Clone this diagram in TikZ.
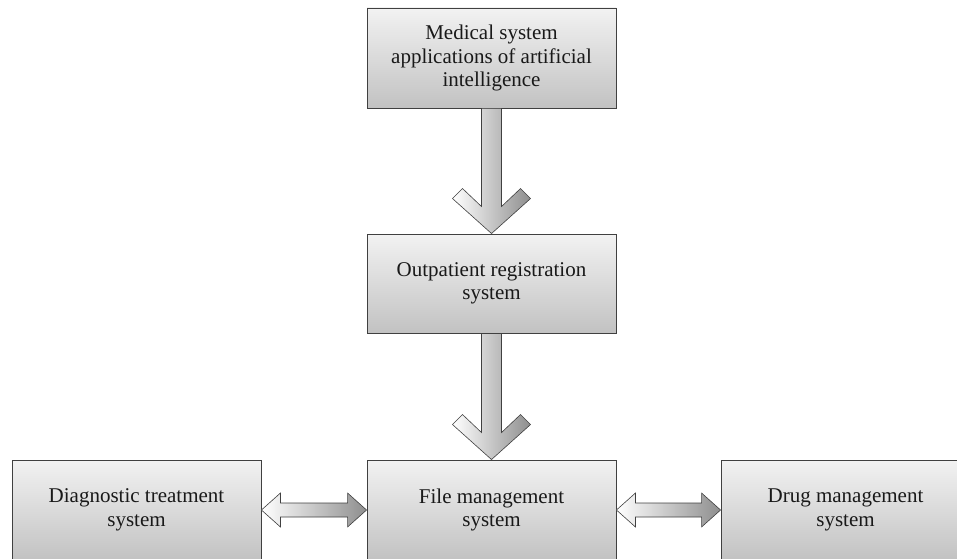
\documentclass[tikz,border=0pt]{standalone}
\usepackage{fontspec}
\setmainfont{Liberation Serif}
\usepackage{tikz}
\usetikzlibrary{calc, positioning}
\definecolor{rahmen}{HTML}{404040}
\definecolor{hellgrau}{HTML}{F2F2F2}
\definecolor{dunkelgrau}{HTML}{C2C2C2}
\definecolor{pfeilgrau}{HTML}{8E8E8E}

\tikzset{
  kasten/.style={draw=rahmen, line width=0.9pt, top color=hellgrau,
    bottom color=dunkelgrau, minimum width=249pt, minimum height=100pt,
    inner sep=0pt, align=center, text=black!90,
    font=\fontsize{21}{23.5}\selectfont},
  blockpfeil/.style={draw=rahmen, line width=0.6pt, left color=white,
    right color=pfeilgrau}
}

% Pfeil nach unten, Spitze am oberen Rand von #2
\newcommand{\pfeilrunter}[2]{%
  \path[blockpfeil] ($(#1.south)+(-10,0)$) -- ($(#2.north)+(-10,27)$)
    -- ($(#2.north)+(-29,45)$) -- ($(#2.north)+(-39,35)$) -- (#2.north)
    -- ($(#2.north)+(39,35)$) -- ($(#2.north)+(29,45)$)
    -- ($(#2.north)+(10,27)$) -- ($(#1.south)+(10,0)$) -- cycle;}

% Doppelpfeil zwischen #1 (links) und #2 (rechts)
\newcommand{\doppelpfeil}[2]{%
  \path[blockpfeil] (#1.east) -- ($(#1.east)+(19,17)$) -- ($(#1.east)+(19,7)$)
    -- ($(#2.west)+(-19,7)$) -- ($(#2.west)+(-19,17)$) -- (#2.west)
    -- ($(#2.west)+(-19,-17)$) -- ($(#2.west)+(-19,-7)$)
    -- ($(#1.east)+(19,-7)$) -- ($(#1.east)+(19,-17)$) -- cycle;}

\begin{document}
\begin{tikzpicture}[x=1pt, y=1pt]
  \useasboundingbox (0,0) rectangle (957,558);
  \clip (0,0) rectangle (957,558);

  % --- Kaesten ---
  \node[kasten] (medizin) at (491.5,500) {Medical system\\applications of artificial\\intelligence};
  \node[kasten, minimum height=99pt] (ambulanz) at (491.5,274.5) {Outpatient registration\\system};
  \node[kasten] (akte) at (491.5,48) {File management\\system};
  \node[kasten] (diagnose) at (136.5,48) {Diagnostic treatment\\system};
  \node[kasten] (arznei) at (845.5,48) {Drug management\\system};

  % --- Pfeile ---
  \pfeilrunter{medizin}{ambulanz}
  \pfeilrunter{ambulanz}{akte}
  \doppelpfeil{diagnose}{akte}
  \doppelpfeil{akte}{arznei}
\end{tikzpicture}
\end{document}
